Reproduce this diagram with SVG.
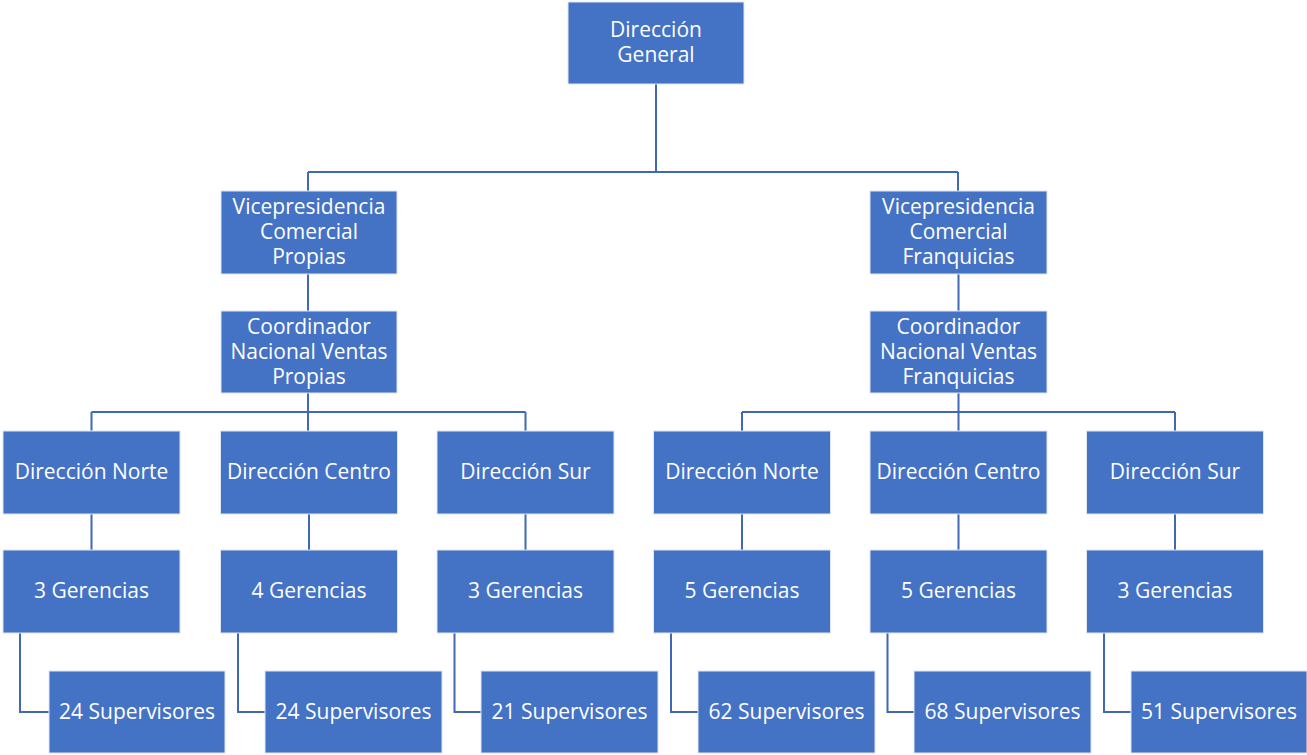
<svg xmlns="http://www.w3.org/2000/svg" width="1307" height="755" viewBox="0 0 1307 755">
<style>
.b{fill:#4472C4;stroke:#dfe6f3;stroke-width:1}
.t{font-family:"Open Sans","Liberation Sans",Arial,sans-serif;font-size:21px;fill:#fff;text-anchor:middle;dominant-baseline:central}
.c{fill:none;stroke:#3f68b5;stroke-width:2}
</style>
<rect width="1307" height="755" fill="#fff"/>
<g id="connectors">
<path class="c" d="M656 84V172M308 172H958M308 172V191M958 172V191"/>
<path class="c" d="M308 274V311M958.5 274V311"/>
<path class="c" d="M308 393V431M91.5 412H525.5M91.5 412V431M525.5 412V431"/>
<path class="c" d="M958.5 393V431M742 412H1175M742 412V431M1175 412V431"/>
<path class="c" d="M91.5 514V550M309 514V550M525.5 514V550M742 514V550M958.5 514V550M1175 514V550"/>
<path class="c" d="M20 633V712H49M238 633V712H265M454.5 633V712H481M671 633V712H698M887.5 633V712H914M1104 633V712H1131"/>
</g>
<g id="n-dg"><rect class="b" x="568" y="2" width="176" height="82"/><text class="t" x="656" y="29">Dirección</text><text class="t" x="656" y="54">General</text></g>
<g id="n-vp1"><rect class="b" x="221" y="191" width="176" height="83"/><text class="t" x="309" y="206">Vicepresidencia</text><text class="t" x="309" y="231">Comercial</text><text class="t" x="309" y="256">Propias</text></g>
<g id="n-vp2"><rect class="b" x="870" y="191" width="177" height="83"/><text class="t" x="958.5" y="206">Vicepresidencia</text><text class="t" x="958.5" y="231">Comercial</text><text class="t" x="958.5" y="256">Franquicias</text></g>
<g id="n-co1"><rect class="b" x="221" y="311" width="176" height="82"/><text class="t" x="309" y="326">Coordinador</text><text class="t" x="309" y="351">Nacional Ventas</text><text class="t" x="309" y="376">Propias</text></g>
<g id="n-co2"><rect class="b" x="870" y="311" width="177" height="82"/><text class="t" x="958.5" y="326">Coordinador</text><text class="t" x="958.5" y="351">Nacional Ventas</text><text class="t" x="958.5" y="376">Franquicias</text></g>
<g id="n-d1"><rect class="b" x="3" y="431" width="177" height="83"/><text class="t" x="91.5" y="471">Dirección Norte</text></g>
<g id="n-d2"><rect class="b" x="220.5" y="431" width="177" height="83"/><text class="t" x="309" y="471">Dirección Centro</text></g>
<g id="n-d3"><rect class="b" x="437" y="431" width="177" height="83"/><text class="t" x="525.5" y="471">Dirección Sur</text></g>
<g id="n-d4"><rect class="b" x="653.5" y="431" width="177" height="83"/><text class="t" x="742" y="471">Dirección Norte</text></g>
<g id="n-d5"><rect class="b" x="870" y="431" width="177" height="83"/><text class="t" x="958.5" y="471">Dirección Centro</text></g>
<g id="n-d6"><rect class="b" x="1086.5" y="431" width="177" height="83"/><text class="t" x="1175" y="471">Dirección Sur</text></g>
<g id="n-g1"><rect class="b" x="3" y="550" width="177" height="83"/><text class="t" x="91.5" y="590">3 Gerencias</text></g>
<g id="n-g2"><rect class="b" x="220.5" y="550" width="177" height="83"/><text class="t" x="309" y="590">4 Gerencias</text></g>
<g id="n-g3"><rect class="b" x="437" y="550" width="177" height="83"/><text class="t" x="525.5" y="590">3 Gerencias</text></g>
<g id="n-g4"><rect class="b" x="653.5" y="550" width="177" height="83"/><text class="t" x="742" y="590">5 Gerencias</text></g>
<g id="n-g5"><rect class="b" x="870" y="550" width="177" height="83"/><text class="t" x="958.5" y="590">5 Gerencias</text></g>
<g id="n-g6"><rect class="b" x="1086.5" y="550" width="177" height="83"/><text class="t" x="1175" y="590">3 Gerencias</text></g>
<g id="n-s1"><rect class="b" x="49" y="671" width="176" height="82"/><text class="t" x="137" y="711">24 Supervisores</text></g>
<g id="n-s2"><rect class="b" x="265" y="671" width="177" height="82"/><text class="t" x="353.5" y="711">24 Supervisores</text></g>
<g id="n-s3"><rect class="b" x="481" y="671" width="177" height="82"/><text class="t" x="569.5" y="711">21 Supervisores</text></g>
<g id="n-s4"><rect class="b" x="698" y="671" width="177" height="82"/><text class="t" x="786.5" y="711">62 Supervisores</text></g>
<g id="n-s5"><rect class="b" x="914" y="671" width="177" height="82"/><text class="t" x="1002.5" y="711">68 Supervisores</text></g>
<g id="n-s6"><rect class="b" x="1131" y="671" width="176" height="82"/><text class="t" x="1219" y="711">51 Supervisores</text></g>
</svg>
